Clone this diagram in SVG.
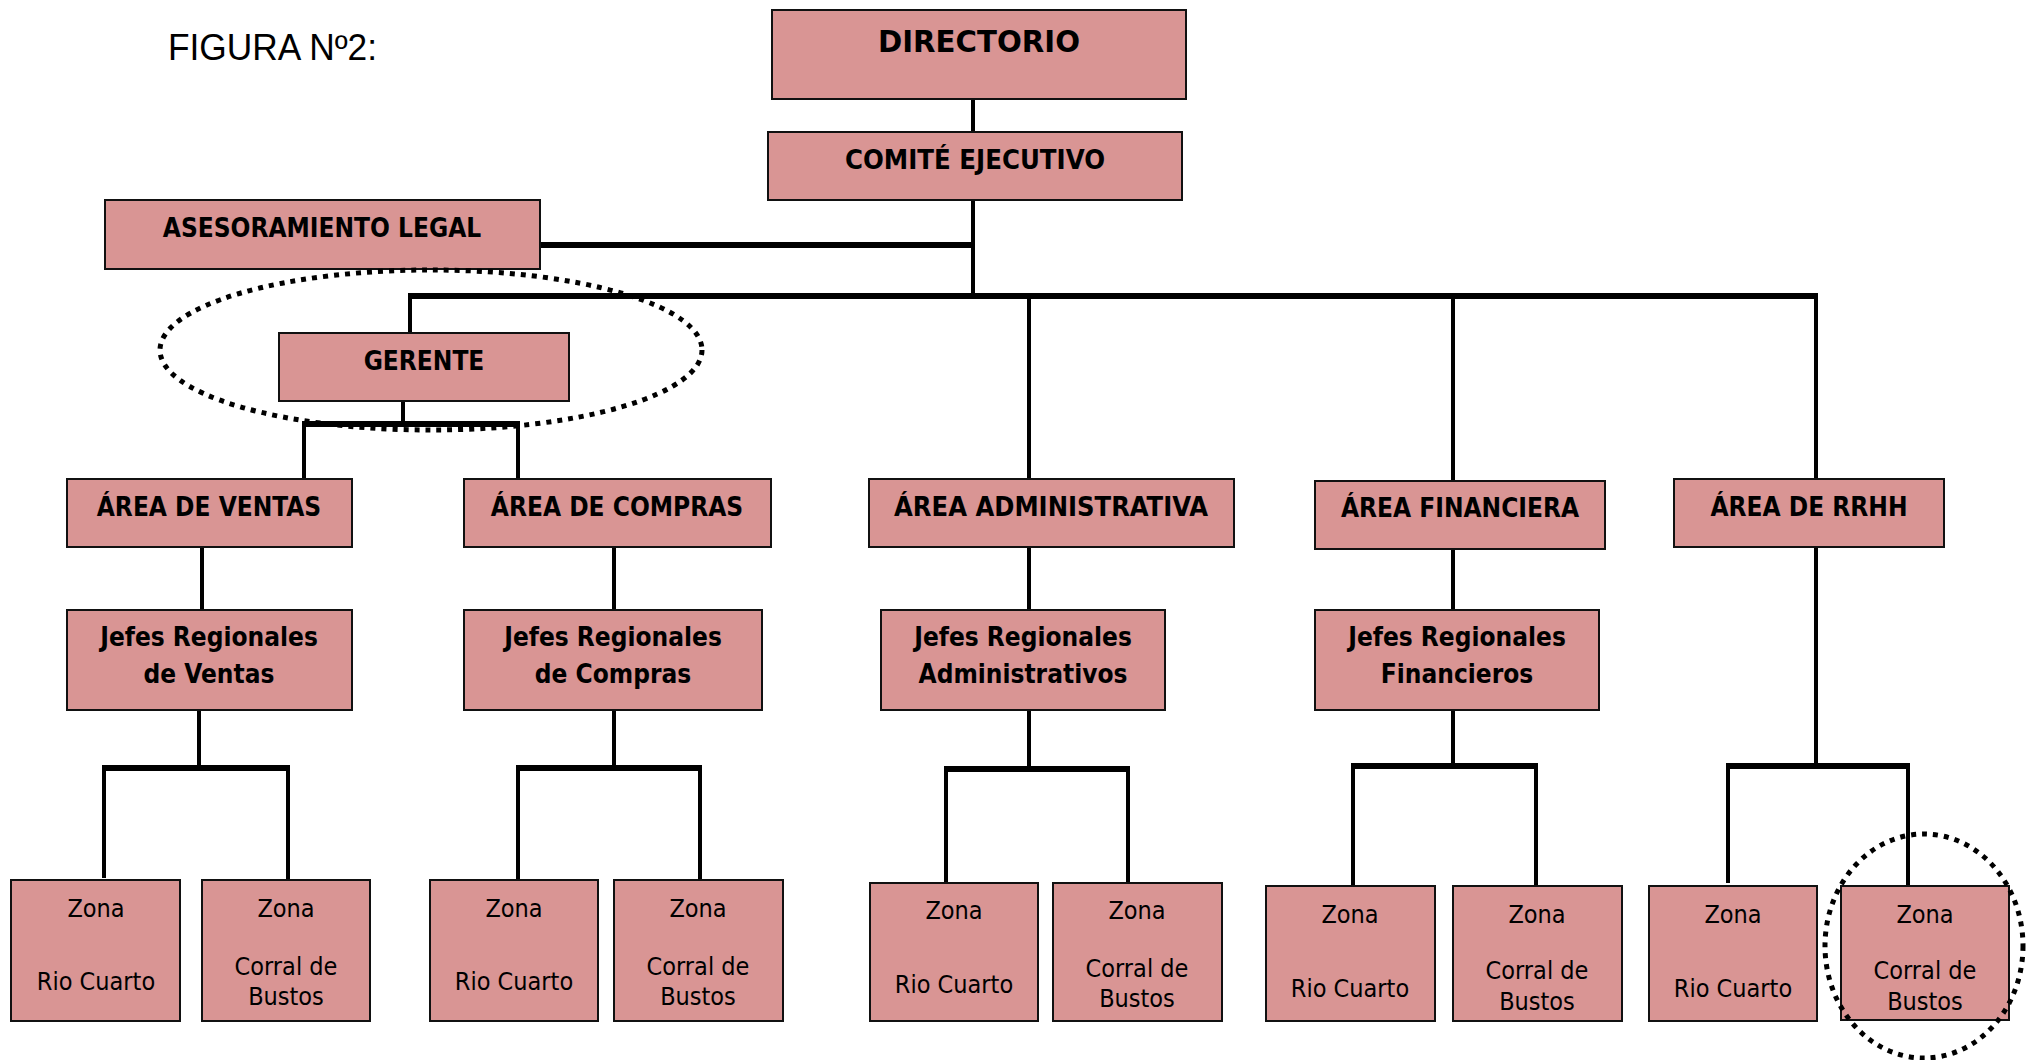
<svg xmlns="http://www.w3.org/2000/svg" width="2037" height="1060" viewBox="0 0 2037 1060">
<style>
.box{fill:#D99594;stroke:#111;stroke-width:2}
.h{font-family:"DejaVu Sans Condensed","DejaVu Sans",sans-serif;font-weight:bold;font-size:26px;fill:#000;text-anchor:middle}
.t{font-family:"DejaVu Sans Condensed","DejaVu Sans",sans-serif;font-size:25px;fill:#000;text-anchor:middle}
.v{stroke:#000;stroke-width:4;fill:none}
.b{stroke:#000;stroke-width:6;fill:none}
.dot{fill:none;stroke:#000;stroke-width:5;stroke-dasharray:5 6}
</style>
<rect width="2037" height="1060" fill="#fff"/>
<text x="168" y="60" font-family="Liberation Sans, Arial, sans-serif" font-size="36" textLength="209" lengthAdjust="spacingAndGlyphs">FIGURA Nº2:</text>
<g id="connectors">
<line class="v" x1="973" y1="99" x2="973" y2="132"/>
<line class="v" x1="973" y1="200" x2="973" y2="298"/>
<line class="b" x1="539" y1="245" x2="975" y2="245"/>
<line class="b" x1="408" y1="296" x2="1818" y2="296"/>
<line class="v" x1="410" y1="294" x2="410" y2="334"/>
<line class="v" x1="1029" y1="294" x2="1029" y2="480"/>
<line class="v" x1="1453" y1="294" x2="1453" y2="482"/>
<line class="v" x1="1816" y1="294" x2="1816" y2="480"/>
<line class="v" x1="403" y1="400" x2="403" y2="424"/>
<line class="b" x1="302" y1="424" x2="520" y2="424"/>
<line class="v" x1="304" y1="422" x2="304" y2="480"/>
<line class="v" x1="518" y1="422" x2="518" y2="480"/>
<line class="v" x1="202" y1="547" x2="202" y2="611"/>
<line class="v" x1="614" y1="547" x2="614" y2="611"/>
<line class="v" x1="1029" y1="547" x2="1029" y2="611"/>
<line class="v" x1="1453" y1="548" x2="1453" y2="611"/>
<line class="v" x1="199" y1="710" x2="199" y2="768"/>
<line class="b" x1="102" y1="768" x2="290" y2="768"/>
<line class="v" x1="104" y1="766" x2="104" y2="878"/>
<line class="v" x1="288" y1="766" x2="288" y2="881"/>
<line class="v" x1="614" y1="710" x2="614" y2="768"/>
<line class="b" x1="516" y1="768" x2="702" y2="768"/>
<line class="v" x1="518" y1="766" x2="518" y2="881"/>
<line class="v" x1="700" y1="766" x2="700" y2="881"/>
<line class="v" x1="1029" y1="710" x2="1029" y2="769"/>
<line class="b" x1="944" y1="769" x2="1130" y2="769"/>
<line class="v" x1="946" y1="767" x2="946" y2="884"/>
<line class="v" x1="1128" y1="767" x2="1128" y2="884"/>
<line class="v" x1="1453" y1="710" x2="1453" y2="766"/>
<line class="b" x1="1351" y1="766" x2="1538" y2="766"/>
<line class="v" x1="1353" y1="764" x2="1353" y2="887"/>
<line class="v" x1="1536" y1="764" x2="1536" y2="887"/>
<line class="v" x1="1816" y1="547" x2="1816" y2="766"/>
<line class="b" x1="1726" y1="766" x2="1910" y2="766"/>
<line class="v" x1="1728" y1="764" x2="1728" y2="883"/>
<line class="v" x1="1908" y1="764" x2="1908" y2="887"/>
</g>
<g id="directorio"><rect class="box" x="772" y="10" width="414" height="89"/><text x="979" y="52" font-family="'DejaVu Sans',sans-serif" font-weight="bold" font-size="31" text-anchor="middle" textLength="202" lengthAdjust="spacingAndGlyphs">DIRECTORIO</text></g>
<g id="comite"><rect class="box" x="768" y="132" width="414" height="68"/><text class="h" x="975" y="169" textLength="260" lengthAdjust="spacingAndGlyphs">COMITÉ EJECUTIVO</text></g>
<g id="asesoramiento"><rect class="box" x="105" y="200" width="435" height="69"/><text class="h" x="322" y="237">ASESORAMIENTO LEGAL</text></g>
<g id="gerente"><rect class="box" x="279" y="333" width="290" height="68"/><text class="h" x="424" y="370">GERENTE</text></g>
<g id="area-ventas"><rect class="box" x="67" y="479" width="285" height="68"/><text class="h" x="209" y="516">ÁREA DE VENTAS</text></g>
<g id="area-compras"><rect class="box" x="464" y="479" width="307" height="68"/><text class="h" x="617" y="516">ÁREA DE COMPRAS</text></g>
<g id="area-administrativa"><rect class="box" x="869" y="479" width="365" height="68"/><text class="h" x="1051" y="516" textLength="314" lengthAdjust="spacingAndGlyphs">ÁREA ADMINISTRATIVA</text></g>
<g id="area-financiera"><rect class="box" x="1315" y="481" width="290" height="68"/><text class="h" x="1460" y="517">ÁREA FINANCIERA</text></g>
<g id="area-rrhh"><rect class="box" x="1674" y="479" width="270" height="68"/><text class="h" x="1809" y="516">ÁREA DE RRHH</text></g>
<g id="jefes-ventas"><rect class="box" x="67" y="610" width="285" height="100"/><text class="h" x="209" y="646">Jefes Regionales</text><text class="h" x="209" y="683">de Ventas</text></g>
<g id="jefes-compras"><rect class="box" x="464" y="610" width="298" height="100"/><text class="h" x="613" y="646">Jefes Regionales</text><text class="h" x="613" y="683">de Compras</text></g>
<g id="jefes-admin"><rect class="box" x="881" y="610" width="284" height="100"/><text class="h" x="1023" y="646">Jefes Regionales</text><text class="h" x="1023" y="683">Administrativos</text></g>
<g id="jefes-fin"><rect class="box" x="1315" y="610" width="284" height="100"/><text class="h" x="1457" y="646">Jefes Regionales</text><text class="h" x="1457" y="683">Financieros</text></g>
<g id="ventas-rc"><rect class="box" x="11" y="880" width="169" height="141"/><text class="t" x="96" y="917">Zona</text><text class="t" x="96" y="990">Rio Cuarto</text></g>
<g id="ventas-cb"><rect class="box" x="202" y="880" width="168" height="141"/><text class="t" x="286" y="917">Zona</text><text class="t" x="286" y="975">Corral de</text><text class="t" x="286" y="1005">Bustos</text></g>
<g id="compras-rc"><rect class="box" x="430" y="880" width="168" height="141"/><text class="t" x="514" y="917">Zona</text><text class="t" x="514" y="990">Rio Cuarto</text></g>
<g id="compras-cb"><rect class="box" x="614" y="880" width="169" height="141"/><text class="t" x="698" y="917">Zona</text><text class="t" x="698" y="975">Corral de</text><text class="t" x="698" y="1005">Bustos</text></g>
<g id="admin-rc"><rect class="box" x="870" y="883" width="168" height="138"/><text class="t" x="954" y="919">Zona</text><text class="t" x="954" y="993">Rio Cuarto</text></g>
<g id="admin-cb"><rect class="box" x="1053" y="883" width="169" height="138"/><text class="t" x="1137" y="919">Zona</text><text class="t" x="1137" y="977">Corral de</text><text class="t" x="1137" y="1007">Bustos</text></g>
<g id="fin-rc"><rect class="box" x="1266" y="886" width="169" height="135"/><text class="t" x="1350" y="923">Zona</text><text class="t" x="1350" y="997">Rio Cuarto</text></g>
<g id="fin-cb"><rect class="box" x="1453" y="886" width="169" height="135"/><text class="t" x="1537" y="923">Zona</text><text class="t" x="1537" y="979">Corral de</text><text class="t" x="1537" y="1010">Bustos</text></g>
<g id="rrhh-rc"><rect class="box" x="1649" y="886" width="168" height="135"/><text class="t" x="1733" y="923">Zona</text><text class="t" x="1733" y="997">Rio Cuarto</text></g>
<g id="rrhh-cb"><rect class="box" x="1841" y="886" width="168" height="134"/><text class="t" x="1925" y="923">Zona</text><text class="t" x="1925" y="979">Corral de</text><text class="t" x="1925" y="1010">Bustos</text></g>
<g id="highlights">
<ellipse class="dot" cx="431" cy="350" rx="271" ry="80"/>
<ellipse class="dot" cx="1924" cy="946" rx="99" ry="112"/>
</g>
</svg>
